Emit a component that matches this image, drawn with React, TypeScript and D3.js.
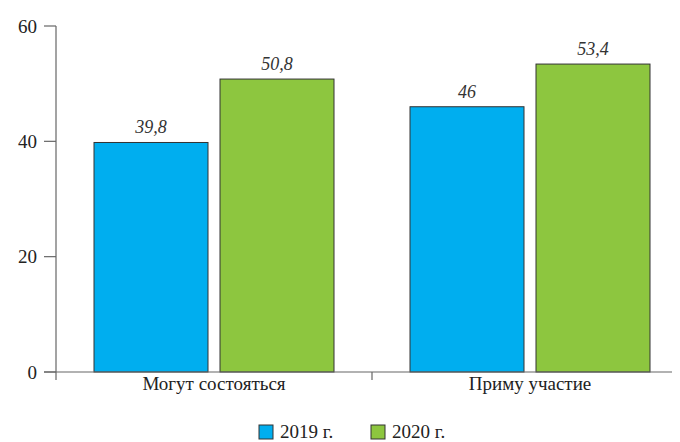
import React from "react";
import * as d3 from "d3";

const categories = ["Могут состояться", "Приму участие"];
const seriesNames = ["2019 г.", "2020 г."];
const values2019 = [39.8, 46];
const values2020 = [50.8, 53.4];
const yTicks = [0, 20, 40, 60];
const colors = ["#00aeef", "#8dc63f"];

export default function App() {
  const W = 680, H = 442;
  const x0 = 56, xEnd = 688, yTop = 26, yBot = 372;
  const x = d3.scaleBand<string>().domain(categories).range([x0, xEnd]).paddingInner(0).paddingOuter(0);
  const y = d3.scaleLinear().domain([0, 60]).range([yBot, yTop]);
  const inner = d3.scaleBand<string>().domain(seriesNames).range([38, x.bandwidth() - 38]).paddingInner(12 / 126);
  const series = [values2019, values2020];
  const fmt = (v: number) => String(v).replace(".", ",");
  const FF = "'Liberation Serif'";
  const st = (size: number, italic = false) => ({ fontFamily: FF, fontSize: size, fontStyle: italic ? "italic" : "normal" });
  return (
    <div style={{ margin: "-8px 0 0 -8px", width: W, height: H, fontFamily: FF }}>
      <svg width={W} height={H} style={{ display: "block", fontFamily: FF }}>
        <style>{`text { font-family: 'Liberation Serif', serif; }`}</style>
        <rect width={W} height={H} fill="#fff" />
        {categories.map((c, ci) =>
          seriesNames.map((s, si) => {
            const v = series[si][ci];
            const bx = (x(c) as number) + (inner(s) as number);
            return (
              <g key={c + s}>
                <rect x={bx} y={y(v)} width={inner.bandwidth()} height={yBot - y(v)} fill={colors[si]} stroke="#333" strokeWidth={1} />
                <text x={bx + inner.bandwidth() / 2} y={y(v) - 9} textAnchor="middle" style={st(18, true)} fill="#333">{fmt(v)}</text>
              </g>
            );
          })
        )}
        <line x1={x0} x2={x0} y1={yTop} y2={380} stroke="#666" strokeWidth={1.2} />
        <line x1={44} x2={W} y1={yBot} y2={yBot} stroke="#666" strokeWidth={1.2} />
        {yTicks.map(t => (
          <g key={t}>
            <line x1={44} x2={x0} y1={y(t)} y2={y(t)} stroke="#666" strokeWidth={1.2} />
            <text x={37} y={y(t)} dy="0.35em" textAnchor="end" style={st(19)} fill="#222">{t}</text>
          </g>
        ))}
        {categories.map((c, i) => (
          <g key={c}>
            {i > 0 && <line x1={x(c) as number} x2={x(c) as number} y1={yBot} y2={380} stroke="#666" strokeWidth={1.2} />}
            <text x={(x(c) as number) + x.bandwidth() / 2} y={390} textAnchor="middle" style={st(19)} fill="#222">{c}</text>
          </g>
        ))}
        {seriesNames.map((s, i) => {
          const lx = 259 + i * 112;
          return (
            <g key={s}>
              <rect x={lx} y={425} width={14} height={14} fill={colors[i]} stroke="#333" strokeWidth={1} />
              <text x={lx + 21} y={438} style={st(19)} fill="#222">{s}</text>
            </g>
          );
        })}
      </svg>
    </div>
  );
}
